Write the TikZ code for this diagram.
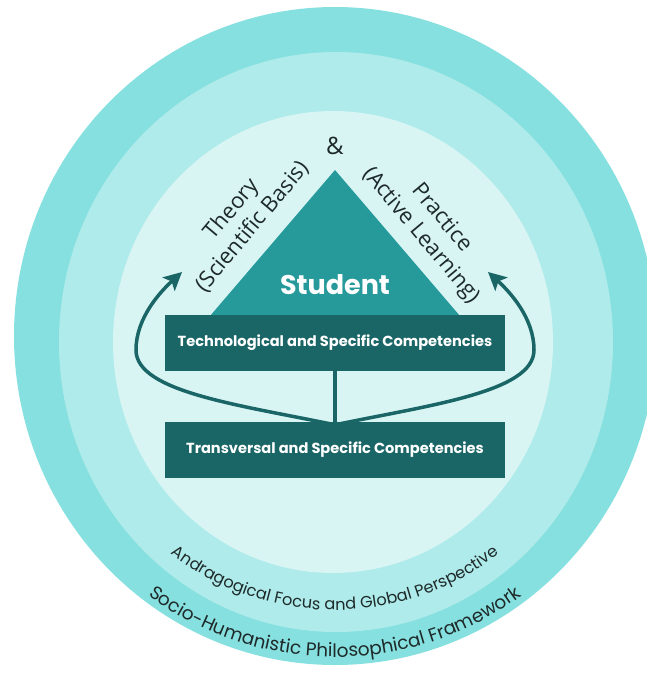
\documentclass[tikz,border=0pt]{standalone}
\usepackage{fontspec}
\usetikzlibrary{arrows.meta,decorations.text}
\newfontfamily\popfont{Poppins}
\newfontfamily\opfont{Open Sans}
\definecolor{ringA}{HTML}{87E0E0}
\definecolor{ringB}{HTML}{AEEBEA}
\definecolor{ringC}{HTML}{D8F5F4}
\definecolor{tri}{HTML}{26999A}
\definecolor{dark}{HTML}{1A6566}
\definecolor{ink}{HTML}{1E2A2A}
\begin{document}
\begin{tikzpicture}[x=1pt,y=-1pt,
  compbox/.style={fill=dark, minimum width=340pt, minimum height=56pt, inner sep=0pt,
    text=white, font=\popfont\bfseries\fontsize{14.6}{16}\selectfont},
  flow/.style={draw=dark, line width=3.5pt, -{Stealth[length=18pt,width=18pt,inset=4pt]}},
  side/.style={font=\opfont\fontsize{22}{27}\selectfont, align=center, text=ink, inner sep=0pt}]
\useasboundingbox (0,0) rectangle (647,675);
\clip (0,0) rectangle (647,675);
% rings
\fill[ringA] (335,336) ellipse [x radius=321, y radius=329];
\fill[ringB] (336,342) ellipse [x radius=277, y radius=290];
\fill[ringC] (333,342) ellipse [x radius=220, y radius=231];
% triangle
\coordinate (apex) at (335,170);
\coordinate (bl) at (210,316);
\coordinate (br) at (460,316);
\fill[tri] (apex) -- (br) -- (bl) -- cycle;
\node[text=white, font=\popfont\bfseries\fontsize{27}{30}\selectfont] (student) at (335,285) {Student};
% boxes
\node[compbox] (tech) at (335,343) {Technological and Specific Competencies};
\node[compbox] (trans) at (335,450) {Transversal and Specific Competencies};
% connectors
\draw[dark, line width=3.5pt] (tech.south) -- (trans.north);
\coordinate (junc) at ([yshift=-3pt]trans.north);
\coordinate (ltip) at (182,272);
\coordinate (rtip) at (488,272);
\draw[flow] (junc) .. controls (240,405) and (136,392) .. (136,350)
  .. controls (136,318) and (160,292) .. (ltip);
\draw[flow] (junc) .. controls (430,405) and (534,392) .. (534,350)
  .. controls (534,318) and (510,292) .. (rtip);
% side labels
\node[side, rotate=50] (theory) at (242,218) {Theory\\(Scientific Basis)};
\node[side, rotate=-50] (practice) at (431,227) {Practice\\(Active Learning)};
\node[font=\opfont\fontsize{24}{26}\selectfont, text=ink] (amp) at (335,146) {\&};
% curved texts
\path[decorate, decoration={text along path, text align=center,
  text={|\popfont\fontsize{16.2}{16}\selectfont\color{ink}|Andragogical Focus and Global Perspective}}]
  (335,342) ++(140:268) arc[start angle=140, end angle=40, radius=268];
\path[decorate, decoration={text along path, text align=center,
  text={|\popfont\fontsize{18.5}{18}\selectfont\color{ink}|Socio-Humanistic Philosophical Framework}}]
  (335,342) ++(140:315) arc[start angle=140, end angle=40, radius=315];
\end{tikzpicture}
\end{document}
